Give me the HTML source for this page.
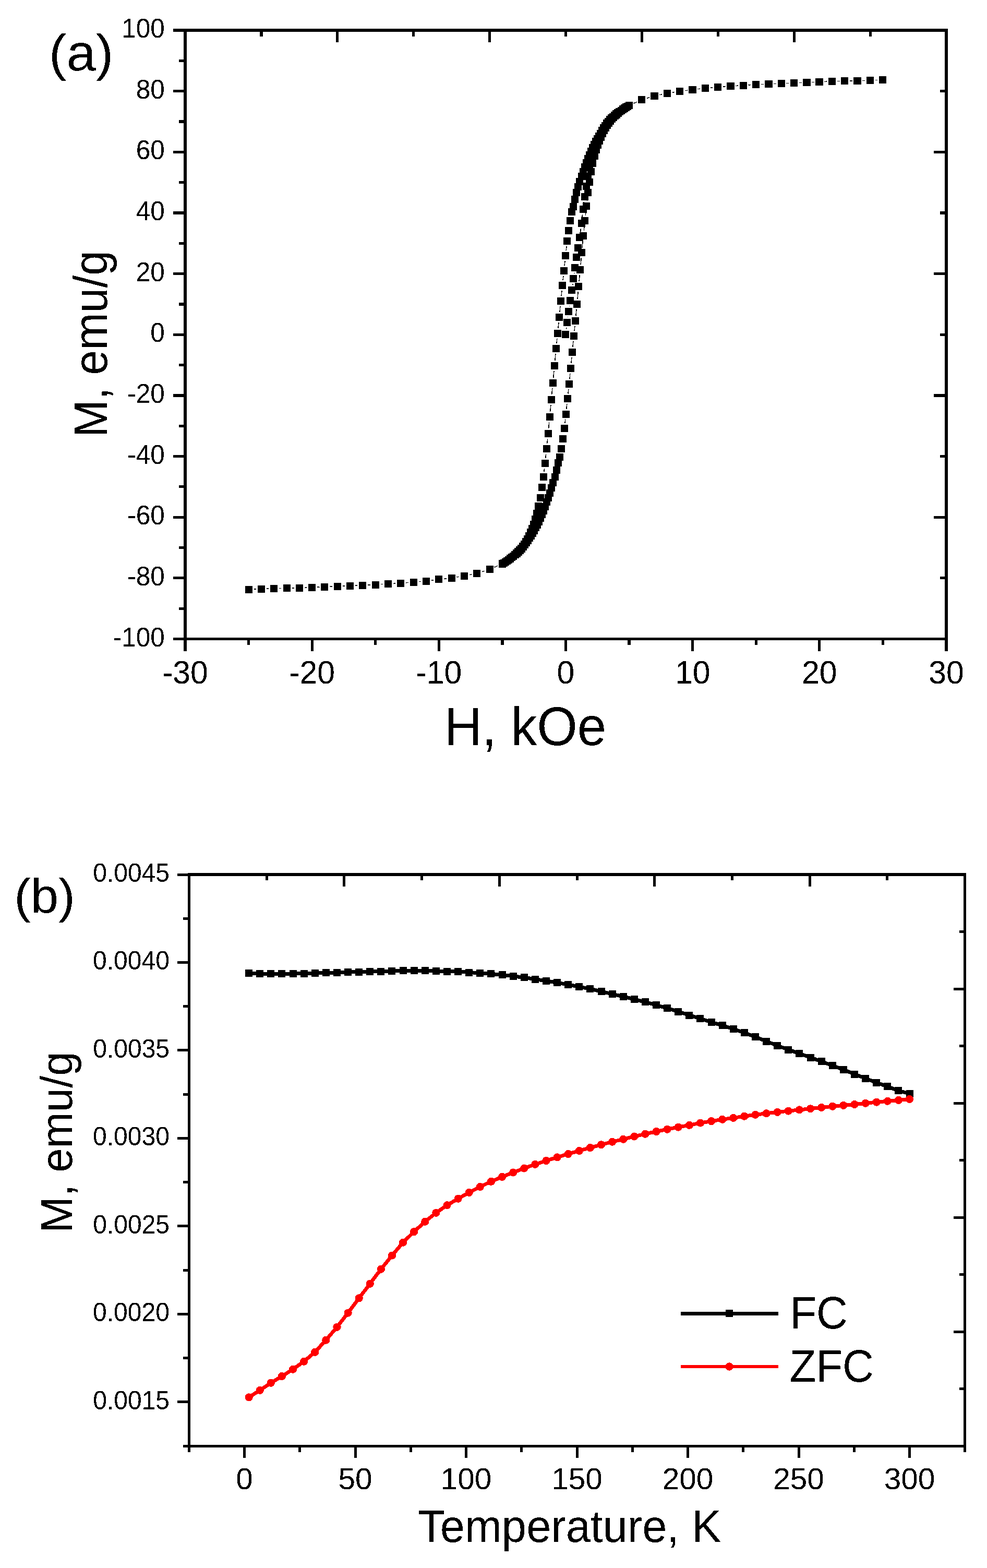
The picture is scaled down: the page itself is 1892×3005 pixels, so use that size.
<!DOCTYPE html>
<html><head><meta charset="utf-8"><title>Magnetization plots</title>
<style>
html,body{margin:0;padding:0;background:#fff;}
body{width:1892px;height:3005px;overflow:hidden;}
svg{display:block;}
text{font-family:"Liberation Sans", Arial, sans-serif;fill:#000;}
</style></head>
<body>
<svg width="1892" height="3005" viewBox="0 0 1892 3005" shape-rendering="crispEdges">
<defs><filter id="bin" x="-5%" y="-20%" width="110%" height="140%" color-interpolation-filters="sRGB"><feComponentTransfer><feFuncA type="discrete" tableValues="0 1"/></feComponentTransfer></filter></defs>
<rect x="0" y="0" width="1892" height="3005" fill="#fff"/>
<rect x="352.20" y="55.20" width="1464.60" height="5.60" fill="#000"/>
<rect x="352.20" y="1221.70" width="1464.60" height="5.60" fill="#000"/>
<rect x="352.20" y="55.20" width="5.60" height="1172.10" fill="#000"/>
<rect x="1811.20" y="55.20" width="5.60" height="1172.10" fill="#000"/>
<rect x="332.00" y="1221.90" width="23.00" height="5.20" fill="#000"/>
<rect x="332.00" y="1105.25" width="23.00" height="5.20" fill="#000"/>
<rect x="332.00" y="988.60" width="23.00" height="5.20" fill="#000"/>
<rect x="332.00" y="871.95" width="23.00" height="5.20" fill="#000"/>
<rect x="332.00" y="755.30" width="23.00" height="5.20" fill="#000"/>
<rect x="332.00" y="638.65" width="23.00" height="5.20" fill="#000"/>
<rect x="332.00" y="522.00" width="23.00" height="5.20" fill="#000"/>
<rect x="332.00" y="405.35" width="23.00" height="5.20" fill="#000"/>
<rect x="332.00" y="288.70" width="23.00" height="5.20" fill="#000"/>
<rect x="332.00" y="172.05" width="23.00" height="5.20" fill="#000"/>
<rect x="332.00" y="55.40" width="23.00" height="5.20" fill="#000"/>
<rect x="343.00" y="1163.58" width="12.00" height="5.20" fill="#000"/>
<rect x="343.00" y="1046.93" width="12.00" height="5.20" fill="#000"/>
<rect x="343.00" y="930.27" width="12.00" height="5.20" fill="#000"/>
<rect x="343.00" y="813.62" width="12.00" height="5.20" fill="#000"/>
<rect x="343.00" y="696.98" width="12.00" height="5.20" fill="#000"/>
<rect x="343.00" y="580.32" width="12.00" height="5.20" fill="#000"/>
<rect x="343.00" y="463.67" width="12.00" height="5.20" fill="#000"/>
<rect x="343.00" y="347.02" width="12.00" height="5.20" fill="#000"/>
<rect x="343.00" y="230.38" width="12.00" height="5.20" fill="#000"/>
<rect x="343.00" y="113.73" width="12.00" height="5.20" fill="#000"/>
<rect x="352.40" y="1224.50" width="5.20" height="23.50" fill="#000"/>
<rect x="595.57" y="1224.50" width="5.20" height="23.50" fill="#000"/>
<rect x="838.73" y="1224.50" width="5.20" height="23.50" fill="#000"/>
<rect x="1081.90" y="1224.50" width="5.20" height="23.50" fill="#000"/>
<rect x="1325.07" y="1224.50" width="5.20" height="23.50" fill="#000"/>
<rect x="1568.23" y="1224.50" width="5.20" height="23.50" fill="#000"/>
<rect x="1811.40" y="1224.50" width="5.20" height="23.50" fill="#000"/>
<rect x="473.98" y="1224.50" width="5.20" height="11.50" fill="#000"/>
<rect x="717.15" y="1224.50" width="5.20" height="11.50" fill="#000"/>
<rect x="960.32" y="1224.50" width="5.20" height="11.50" fill="#000"/>
<rect x="1203.48" y="1224.50" width="5.20" height="11.50" fill="#000"/>
<rect x="1446.65" y="1224.50" width="5.20" height="11.50" fill="#000"/>
<rect x="1689.82" y="1224.50" width="5.20" height="11.50" fill="#000"/>
<rect x="498.30" y="58.00" width="5.20" height="12.00" fill="#000"/>
<rect x="644.20" y="58.00" width="5.20" height="23.00" fill="#000"/>
<rect x="790.10" y="58.00" width="5.20" height="12.00" fill="#000"/>
<rect x="936.00" y="58.00" width="5.20" height="23.00" fill="#000"/>
<rect x="1081.90" y="58.00" width="5.20" height="12.00" fill="#000"/>
<rect x="1227.80" y="58.00" width="5.20" height="23.00" fill="#000"/>
<rect x="1373.70" y="58.00" width="5.20" height="12.00" fill="#000"/>
<rect x="1519.60" y="58.00" width="5.20" height="23.00" fill="#000"/>
<rect x="1665.50" y="58.00" width="5.20" height="12.00" fill="#000"/>
<rect x="1802.00" y="172.05" width="12.00" height="5.20" fill="#000"/>
<rect x="1790.00" y="288.70" width="24.00" height="5.20" fill="#000"/>
<rect x="1802.00" y="405.35" width="12.00" height="5.20" fill="#000"/>
<rect x="1790.00" y="522.00" width="24.00" height="5.20" fill="#000"/>
<rect x="1802.00" y="638.65" width="12.00" height="5.20" fill="#000"/>
<rect x="1790.00" y="755.30" width="24.00" height="5.20" fill="#000"/>
<rect x="1802.00" y="871.95" width="12.00" height="5.20" fill="#000"/>
<rect x="1790.00" y="988.60" width="24.00" height="5.20" fill="#000"/>
<rect x="1802.00" y="1105.25" width="12.00" height="5.20" fill="#000"/>
<text filter="url(#bin)" transform="translate(315.94 1238.50) scale(1 1.037)" font-size="49.6" text-anchor="end">-100</text>
<text filter="url(#bin)" transform="translate(315.94 1121.85) scale(1 1.037)" font-size="49.6" text-anchor="end">-80</text>
<text filter="url(#bin)" transform="translate(315.94 1005.20) scale(1 1.037)" font-size="49.6" text-anchor="end">-60</text>
<text filter="url(#bin)" transform="translate(315.94 888.55) scale(1 1.037)" font-size="49.6" text-anchor="end">-40</text>
<text filter="url(#bin)" transform="translate(315.94 771.90) scale(1 1.037)" font-size="49.6" text-anchor="end">-20</text>
<text filter="url(#bin)" transform="translate(315.94 655.25) scale(1 1.037)" font-size="49.6" text-anchor="end">0</text>
<text filter="url(#bin)" transform="translate(315.94 538.60) scale(1 1.037)" font-size="49.6" text-anchor="end">20</text>
<text filter="url(#bin)" transform="translate(315.94 421.95) scale(1 1.037)" font-size="49.6" text-anchor="end">40</text>
<text filter="url(#bin)" transform="translate(315.94 305.30) scale(1 1.037)" font-size="49.6" text-anchor="end">60</text>
<text filter="url(#bin)" transform="translate(315.94 188.65) scale(1 1.037)" font-size="49.6" text-anchor="end">80</text>
<text filter="url(#bin)" transform="translate(315.94 72.00) scale(1 1.037)" font-size="49.6" text-anchor="end">100</text>
<text filter="url(#bin)" transform="translate(355.00 1310.20) scale(1 1.047)" font-size="60.7" text-anchor="middle">-30</text>
<text filter="url(#bin)" transform="translate(598.17 1310.20) scale(1 1.047)" font-size="60.7" text-anchor="middle">-20</text>
<text filter="url(#bin)" transform="translate(841.33 1310.20) scale(1 1.047)" font-size="60.7" text-anchor="middle">-10</text>
<text filter="url(#bin)" transform="translate(1084.50 1310.20) scale(1 1.047)" font-size="60.7" text-anchor="middle">0</text>
<text filter="url(#bin)" transform="translate(1327.67 1310.20) scale(1 1.047)" font-size="60.7" text-anchor="middle">10</text>
<text filter="url(#bin)" transform="translate(1570.83 1310.20) scale(1 1.047)" font-size="60.7" text-anchor="middle">20</text>
<text filter="url(#bin)" transform="translate(1814.00 1310.20) scale(1 1.047)" font-size="60.7" text-anchor="middle">30</text>
<text filter="url(#bin)" transform="translate(852.00 1427.90) scale(1 1.034)" font-size="99.7" text-anchor="start">H, kOe</text>
<text filter="url(#bin)" transform="translate(205.10 837.80) rotate(-90) scale(1 1.051)" font-size="85.85" text-anchor="start">M, emu/g</text>
<text filter="url(#bin)" transform="translate(93.70 135.35) scale(1 0.967)" font-size="101.2" text-anchor="start">(a)</text>
<path d="M1085.4 631.3L1085.9 628.0M1088.6 608.2L1088.8 606.8M1091.6 587.0L1091.8 585.8M1097.7 546.2L1098.0 543.8M1100.8 524.0L1100.9 522.8M1112.6 445.3L1113.4 438.3M1115.6 418.4L1116.5 410.9M1118.8 391.0L1119.3 387.0M1214.9 198.0L1220.9 195.3M1239.6 188.3L1244.8 186.7M1264.2 181.8L1268.9 180.9M1288.5 177.3L1293.1 176.5M1312.9 173.7L1317.4 173.2M1337.2 170.7L1341.7 170.2M1361.6 168.1L1366.0 167.7M1385.9 166.0L1390.3 165.7M1410.2 164.4L1414.6 164.2M1434.5 163.0L1438.9 162.7M1458.9 161.5L1463.2 161.3M1483.2 160.5L1487.5 160.3M1507.5 159.5L1511.8 159.3M1531.8 158.5L1536.2 158.3M1556.1 157.5L1560.5 157.3M1580.5 156.4L1584.8 156.2M1604.8 155.6L1609.1 155.6M1629.1 155.2L1633.4 155.1M1653.4 154.5L1657.7 154.3M1677.7 153.5L1682.1 153.3M1682.4 153.3L1678.1 153.5M1658.1 154.3L1653.8 154.5M1633.8 155.1L1629.5 155.2M1609.5 155.6L1605.1 155.6M1585.2 156.2L1580.8 156.4M1560.8 157.3L1556.5 157.5M1536.5 158.3L1532.2 158.5M1512.2 159.3L1507.9 159.5M1487.9 160.3L1483.6 160.5M1463.6 161.3L1459.2 161.5M1439.3 162.7L1434.9 163.0M1414.9 164.2L1410.6 164.4M1390.7 165.7L1386.3 166.0M1366.3 167.7L1362.0 168.1M1342.1 170.2L1337.6 170.7M1317.7 173.2L1313.3 173.7M1293.5 176.5L1288.9 177.3M1269.2 180.9L1264.5 181.8M1245.2 186.7L1240.0 188.3M1221.3 195.3L1214.8 198.2M1086.1 472.0L1085.2 479.7M1083.1 499.6L1082.1 508.8M1080.0 528.7L1079.1 536.8M1077.1 556.7L1076.0 567.1M1074.0 587.0L1072.9 598.3M1071.0 618.2L1069.9 629.2M1067.9 649.1L1067.0 657.8M1065.0 677.7L1063.8 690.8M1062.0 710.7L1060.7 724.2M1058.9 744.1L1057.7 756.2M1055.9 776.2L1054.7 788.9M1052.8 808.8L1051.6 821.5M1049.6 841.4L1048.7 850.0M1046.6 869.9L1045.7 878.5M1043.4 898.3L1042.8 904.0M953.4 1084.7L947.7 1087.2M929.0 1094.2L923.8 1095.8M904.5 1100.7L899.8 1101.6M880.1 1105.2L875.5 1106.0M855.7 1108.8L851.3 1109.3M831.4 1111.8L826.9 1112.3M807.0 1114.4L802.7 1114.8M782.7 1116.5L778.3 1116.8M758.4 1118.1L754.1 1118.3M734.1 1119.5L729.7 1119.8M709.8 1121.0L705.4 1121.2M685.4 1122.0L681.1 1122.2M661.1 1123.0L656.8 1123.2M636.8 1124.0L632.5 1124.2M612.5 1125.0L608.2 1125.2M588.2 1126.1L583.8 1126.3M563.9 1126.9L559.5 1126.9M539.5 1127.3L535.2 1127.4M515.2 1128.0L510.9 1128.2M490.9 1129.0L486.6 1129.2M486.6 1129.2L490.9 1129.0M510.9 1128.2L515.2 1128.0M535.2 1127.4L539.5 1127.3M559.5 1126.9L563.9 1126.9M583.8 1126.3L588.2 1126.1M608.2 1125.2L612.5 1125.0M632.5 1124.2L636.8 1124.0M656.8 1123.2L661.1 1123.0M681.1 1122.2L685.4 1122.0M705.4 1121.2L709.8 1121.0M729.7 1119.8L734.1 1119.5M754.1 1118.3L758.4 1118.1M778.3 1116.8L782.7 1116.5M802.7 1114.8L807.0 1114.4M826.9 1112.3L831.4 1111.8M851.3 1109.3L855.7 1108.8M875.5 1106.0L880.1 1105.2M899.8 1101.6L904.5 1100.7M923.8 1095.8L929.0 1094.2M947.7 1087.2L954.1 1084.4M1082.9 811.0L1083.7 803.5M1085.8 783.6L1086.8 774.4M1088.9 754.5L1089.8 746.4M1091.9 726.5L1092.9 716.1M1094.9 696.2L1096.0 684.9M1097.9 665.0L1099.0 654.0M1101.0 634.1L1102.0 625.4M1103.9 605.5L1105.1 592.5M1107.0 572.6L1108.2 559.1M1110.1 539.2L1111.2 527.0M1113.1 507.1L1114.3 494.4M1116.1 474.5L1117.3 461.7M1119.3 441.8L1120.2 433.2M1122.3 413.3L1123.2 404.7M1125.5 384.8L1126.2 379.0M1215.5 197.8L1221.3 195.3M1240.0 188.3L1245.2 186.7M1264.5 181.8L1269.2 180.9M1288.9 177.3L1293.5 176.5M1313.3 173.7L1317.7 173.2M1337.6 170.7L1342.1 170.2M1362.0 168.1L1366.3 167.7M1386.3 166.0L1390.7 165.7M1410.6 164.4L1414.9 164.2M1434.9 163.0L1439.3 162.7M1459.2 161.5L1463.6 161.3M1483.6 160.5L1487.9 160.3M1507.9 159.5L1512.2 159.3M1532.2 158.5L1536.5 158.3M1556.5 157.5L1560.8 157.3M1580.8 156.4L1585.2 156.2M1605.1 155.6L1609.5 155.6M1629.5 155.2L1633.8 155.1M1653.8 154.5L1658.1 154.3M1678.1 153.5L1682.4 153.3" fill="none" stroke="#000" stroke-width="1.5"/>
<rect x="1077.14" y="634.25" width="14.00" height="14.00" fill="#000"/>
<rect x="1080.17" y="611.09" width="14.00" height="14.00" fill="#000"/>
<rect x="1083.21" y="589.92" width="14.00" height="14.00" fill="#000"/>
<rect x="1086.25" y="568.93" width="14.00" height="14.00" fill="#000"/>
<rect x="1089.29" y="549.10" width="14.00" height="14.00" fill="#000"/>
<rect x="1092.33" y="526.93" width="14.00" height="14.00" fill="#000"/>
<rect x="1095.37" y="505.93" width="14.00" height="14.00" fill="#000"/>
<rect x="1098.41" y="486.10" width="14.00" height="14.00" fill="#000"/>
<rect x="1101.45" y="468.02" width="14.00" height="14.00" fill="#000"/>
<rect x="1104.49" y="448.19" width="14.00" height="14.00" fill="#000"/>
<rect x="1107.53" y="421.36" width="14.00" height="14.00" fill="#000"/>
<rect x="1110.57" y="393.95" width="14.00" height="14.00" fill="#000"/>
<rect x="1113.61" y="370.04" width="14.00" height="14.00" fill="#000"/>
<rect x="1116.65" y="349.92" width="14.00" height="14.00" fill="#000"/>
<rect x="1119.69" y="330.89" width="14.00" height="14.00" fill="#000"/>
<rect x="1122.73" y="314.36" width="14.00" height="14.00" fill="#000"/>
<rect x="1125.77" y="299.90" width="14.00" height="14.00" fill="#000"/>
<rect x="1128.81" y="287.47" width="14.00" height="14.00" fill="#000"/>
<rect x="1131.85" y="277.43" width="14.00" height="14.00" fill="#000"/>
<rect x="1134.89" y="269.02" width="14.00" height="14.00" fill="#000"/>
<rect x="1137.93" y="261.68" width="14.00" height="14.00" fill="#000"/>
<rect x="1140.97" y="254.97" width="14.00" height="14.00" fill="#000"/>
<rect x="1144.01" y="248.79" width="14.00" height="14.00" fill="#000"/>
<rect x="1147.05" y="243.20" width="14.00" height="14.00" fill="#000"/>
<rect x="1150.09" y="238.16" width="14.00" height="14.00" fill="#000"/>
<rect x="1153.12" y="233.61" width="14.00" height="14.00" fill="#000"/>
<rect x="1156.16" y="229.48" width="14.00" height="14.00" fill="#000"/>
<rect x="1159.20" y="225.76" width="14.00" height="14.00" fill="#000"/>
<rect x="1162.24" y="222.39" width="14.00" height="14.00" fill="#000"/>
<rect x="1165.28" y="219.32" width="14.00" height="14.00" fill="#000"/>
<rect x="1168.32" y="216.54" width="14.00" height="14.00" fill="#000"/>
<rect x="1171.36" y="213.97" width="14.00" height="14.00" fill="#000"/>
<rect x="1174.40" y="211.47" width="14.00" height="14.00" fill="#000"/>
<rect x="1177.44" y="209.06" width="14.00" height="14.00" fill="#000"/>
<rect x="1180.48" y="206.75" width="14.00" height="14.00" fill="#000"/>
<rect x="1183.52" y="204.52" width="14.00" height="14.00" fill="#000"/>
<rect x="1186.56" y="202.40" width="14.00" height="14.00" fill="#000"/>
<rect x="1189.60" y="200.39" width="14.00" height="14.00" fill="#000"/>
<rect x="1192.64" y="198.49" width="14.00" height="14.00" fill="#000"/>
<rect x="1195.68" y="196.71" width="14.00" height="14.00" fill="#000"/>
<rect x="1198.72" y="195.06" width="14.00" height="14.00" fill="#000"/>
<rect x="1223.04" y="184.21" width="14.00" height="14.00" fill="#000"/>
<rect x="1247.35" y="176.81" width="14.00" height="14.00" fill="#000"/>
<rect x="1271.67" y="171.91" width="14.00" height="14.00" fill="#000"/>
<rect x="1295.99" y="167.88" width="14.00" height="14.00" fill="#000"/>
<rect x="1320.30" y="165.03" width="14.00" height="14.00" fill="#000"/>
<rect x="1344.62" y="161.88" width="14.00" height="14.00" fill="#000"/>
<rect x="1368.94" y="159.89" width="14.00" height="14.00" fill="#000"/>
<rect x="1393.25" y="157.79" width="14.00" height="14.00" fill="#000"/>
<rect x="1417.57" y="156.80" width="14.00" height="14.00" fill="#000"/>
<rect x="1441.89" y="154.88" width="14.00" height="14.00" fill="#000"/>
<rect x="1466.20" y="153.89" width="14.00" height="14.00" fill="#000"/>
<rect x="1490.52" y="152.89" width="14.00" height="14.00" fill="#000"/>
<rect x="1514.84" y="151.90" width="14.00" height="14.00" fill="#000"/>
<rect x="1539.15" y="150.91" width="14.00" height="14.00" fill="#000"/>
<rect x="1563.47" y="149.86" width="14.00" height="14.00" fill="#000"/>
<rect x="1587.79" y="148.81" width="14.00" height="14.00" fill="#000"/>
<rect x="1612.10" y="148.40" width="14.00" height="14.00" fill="#000"/>
<rect x="1636.42" y="147.94" width="14.00" height="14.00" fill="#000"/>
<rect x="1660.74" y="146.89" width="14.00" height="14.00" fill="#000"/>
<rect x="1685.05" y="145.89" width="14.00" height="14.00" fill="#000"/>
<rect x="1685.42" y="145.89" width="14.00" height="14.00" fill="#000"/>
<rect x="1661.10" y="146.89" width="14.00" height="14.00" fill="#000"/>
<rect x="1636.78" y="147.94" width="14.00" height="14.00" fill="#000"/>
<rect x="1612.47" y="148.40" width="14.00" height="14.00" fill="#000"/>
<rect x="1588.15" y="148.81" width="14.00" height="14.00" fill="#000"/>
<rect x="1563.83" y="149.86" width="14.00" height="14.00" fill="#000"/>
<rect x="1539.52" y="150.91" width="14.00" height="14.00" fill="#000"/>
<rect x="1515.20" y="151.90" width="14.00" height="14.00" fill="#000"/>
<rect x="1490.88" y="152.89" width="14.00" height="14.00" fill="#000"/>
<rect x="1466.57" y="153.89" width="14.00" height="14.00" fill="#000"/>
<rect x="1442.25" y="154.88" width="14.00" height="14.00" fill="#000"/>
<rect x="1417.93" y="156.80" width="14.00" height="14.00" fill="#000"/>
<rect x="1393.62" y="157.79" width="14.00" height="14.00" fill="#000"/>
<rect x="1369.30" y="159.89" width="14.00" height="14.00" fill="#000"/>
<rect x="1344.98" y="161.88" width="14.00" height="14.00" fill="#000"/>
<rect x="1320.67" y="165.03" width="14.00" height="14.00" fill="#000"/>
<rect x="1296.35" y="167.88" width="14.00" height="14.00" fill="#000"/>
<rect x="1272.03" y="171.91" width="14.00" height="14.00" fill="#000"/>
<rect x="1247.72" y="176.81" width="14.00" height="14.00" fill="#000"/>
<rect x="1223.40" y="184.21" width="14.00" height="14.00" fill="#000"/>
<rect x="1198.72" y="195.26" width="14.00" height="14.00" fill="#000"/>
<rect x="1195.68" y="197.00" width="14.00" height="14.00" fill="#000"/>
<rect x="1192.64" y="198.89" width="14.00" height="14.00" fill="#000"/>
<rect x="1189.60" y="200.90" width="14.00" height="14.00" fill="#000"/>
<rect x="1186.56" y="203.02" width="14.00" height="14.00" fill="#000"/>
<rect x="1183.52" y="205.21" width="14.00" height="14.00" fill="#000"/>
<rect x="1180.48" y="207.46" width="14.00" height="14.00" fill="#000"/>
<rect x="1177.44" y="209.82" width="14.00" height="14.00" fill="#000"/>
<rect x="1174.40" y="212.30" width="14.00" height="14.00" fill="#000"/>
<rect x="1171.36" y="214.92" width="14.00" height="14.00" fill="#000"/>
<rect x="1168.32" y="217.70" width="14.00" height="14.00" fill="#000"/>
<rect x="1165.28" y="220.68" width="14.00" height="14.00" fill="#000"/>
<rect x="1162.24" y="223.93" width="14.00" height="14.00" fill="#000"/>
<rect x="1159.20" y="227.43" width="14.00" height="14.00" fill="#000"/>
<rect x="1156.16" y="231.26" width="14.00" height="14.00" fill="#000"/>
<rect x="1153.12" y="235.43" width="14.00" height="14.00" fill="#000"/>
<rect x="1150.09" y="239.80" width="14.00" height="14.00" fill="#000"/>
<rect x="1147.05" y="244.32" width="14.00" height="14.00" fill="#000"/>
<rect x="1144.01" y="249.05" width="14.00" height="14.00" fill="#000"/>
<rect x="1140.97" y="253.97" width="14.00" height="14.00" fill="#000"/>
<rect x="1137.93" y="259.03" width="14.00" height="14.00" fill="#000"/>
<rect x="1134.89" y="264.31" width="14.00" height="14.00" fill="#000"/>
<rect x="1131.85" y="269.95" width="14.00" height="14.00" fill="#000"/>
<rect x="1128.81" y="276.05" width="14.00" height="14.00" fill="#000"/>
<rect x="1125.77" y="282.58" width="14.00" height="14.00" fill="#000"/>
<rect x="1122.73" y="289.54" width="14.00" height="14.00" fill="#000"/>
<rect x="1119.69" y="297.01" width="14.00" height="14.00" fill="#000"/>
<rect x="1116.65" y="304.98" width="14.00" height="14.00" fill="#000"/>
<rect x="1113.61" y="313.31" width="14.00" height="14.00" fill="#000"/>
<rect x="1110.57" y="321.93" width="14.00" height="14.00" fill="#000"/>
<rect x="1107.53" y="331.01" width="14.00" height="14.00" fill="#000"/>
<rect x="1104.49" y="340.73" width="14.00" height="14.00" fill="#000"/>
<rect x="1101.45" y="351.03" width="14.00" height="14.00" fill="#000"/>
<rect x="1098.41" y="362.15" width="14.00" height="14.00" fill="#000"/>
<rect x="1095.37" y="374.58" width="14.00" height="14.00" fill="#000"/>
<rect x="1092.33" y="388.64" width="14.00" height="14.00" fill="#000"/>
<rect x="1089.29" y="399.38" width="14.00" height="14.00" fill="#000"/>
<rect x="1086.25" y="415.82" width="14.00" height="14.00" fill="#000"/>
<rect x="1083.21" y="435.15" width="14.00" height="14.00" fill="#000"/>
<rect x="1080.17" y="455.10" width="14.00" height="14.00" fill="#000"/>
<rect x="1077.14" y="482.62" width="14.00" height="14.00" fill="#000"/>
<rect x="1074.10" y="511.77" width="14.00" height="14.00" fill="#000"/>
<rect x="1071.06" y="539.77" width="14.00" height="14.00" fill="#000"/>
<rect x="1068.02" y="570.09" width="14.00" height="14.00" fill="#000"/>
<rect x="1064.98" y="601.26" width="14.00" height="14.00" fill="#000"/>
<rect x="1061.94" y="632.17" width="14.00" height="14.00" fill="#000"/>
<rect x="1058.90" y="660.79" width="14.00" height="14.00" fill="#000"/>
<rect x="1055.86" y="693.74" width="14.00" height="14.00" fill="#000"/>
<rect x="1052.82" y="727.13" width="14.00" height="14.00" fill="#000"/>
<rect x="1049.78" y="759.19" width="14.00" height="14.00" fill="#000"/>
<rect x="1046.74" y="791.87" width="14.00" height="14.00" fill="#000"/>
<rect x="1043.70" y="824.48" width="14.00" height="14.00" fill="#000"/>
<rect x="1040.66" y="852.95" width="14.00" height="14.00" fill="#000"/>
<rect x="1037.62" y="881.40" width="14.00" height="14.00" fill="#000"/>
<rect x="1034.58" y="906.96" width="14.00" height="14.00" fill="#000"/>
<rect x="1031.54" y="926.92" width="14.00" height="14.00" fill="#000"/>
<rect x="1028.50" y="946.60" width="14.00" height="14.00" fill="#000"/>
<rect x="1025.46" y="962.82" width="14.00" height="14.00" fill="#000"/>
<rect x="1022.42" y="976.97" width="14.00" height="14.00" fill="#000"/>
<rect x="1019.38" y="988.45" width="14.00" height="14.00" fill="#000"/>
<rect x="1016.34" y="997.79" width="14.00" height="14.00" fill="#000"/>
<rect x="1013.30" y="1005.79" width="14.00" height="14.00" fill="#000"/>
<rect x="1010.26" y="1013.02" width="14.00" height="14.00" fill="#000"/>
<rect x="1007.22" y="1019.63" width="14.00" height="14.00" fill="#000"/>
<rect x="1004.19" y="1025.60" width="14.00" height="14.00" fill="#000"/>
<rect x="1001.15" y="1030.92" width="14.00" height="14.00" fill="#000"/>
<rect x="998.11" y="1035.70" width="14.00" height="14.00" fill="#000"/>
<rect x="995.07" y="1040.02" width="14.00" height="14.00" fill="#000"/>
<rect x="992.03" y="1043.86" width="14.00" height="14.00" fill="#000"/>
<rect x="988.99" y="1047.34" width="14.00" height="14.00" fill="#000"/>
<rect x="985.95" y="1050.49" width="14.00" height="14.00" fill="#000"/>
<rect x="982.91" y="1053.32" width="14.00" height="14.00" fill="#000"/>
<rect x="979.87" y="1056.02" width="14.00" height="14.00" fill="#000"/>
<rect x="976.83" y="1058.62" width="14.00" height="14.00" fill="#000"/>
<rect x="973.79" y="1061.13" width="14.00" height="14.00" fill="#000"/>
<rect x="970.75" y="1063.53" width="14.00" height="14.00" fill="#000"/>
<rect x="967.71" y="1065.81" width="14.00" height="14.00" fill="#000"/>
<rect x="964.67" y="1067.97" width="14.00" height="14.00" fill="#000"/>
<rect x="961.63" y="1070.00" width="14.00" height="14.00" fill="#000"/>
<rect x="958.59" y="1071.89" width="14.00" height="14.00" fill="#000"/>
<rect x="955.55" y="1073.64" width="14.00" height="14.00" fill="#000"/>
<rect x="931.60" y="1084.29" width="14.00" height="14.00" fill="#000"/>
<rect x="907.28" y="1091.69" width="14.00" height="14.00" fill="#000"/>
<rect x="882.97" y="1096.59" width="14.00" height="14.00" fill="#000"/>
<rect x="858.65" y="1100.62" width="14.00" height="14.00" fill="#000"/>
<rect x="834.33" y="1103.47" width="14.00" height="14.00" fill="#000"/>
<rect x="810.02" y="1106.62" width="14.00" height="14.00" fill="#000"/>
<rect x="785.70" y="1108.61" width="14.00" height="14.00" fill="#000"/>
<rect x="761.38" y="1110.71" width="14.00" height="14.00" fill="#000"/>
<rect x="737.07" y="1111.70" width="14.00" height="14.00" fill="#000"/>
<rect x="712.75" y="1113.62" width="14.00" height="14.00" fill="#000"/>
<rect x="688.43" y="1114.61" width="14.00" height="14.00" fill="#000"/>
<rect x="664.12" y="1115.61" width="14.00" height="14.00" fill="#000"/>
<rect x="639.80" y="1116.60" width="14.00" height="14.00" fill="#000"/>
<rect x="615.48" y="1117.59" width="14.00" height="14.00" fill="#000"/>
<rect x="591.17" y="1118.64" width="14.00" height="14.00" fill="#000"/>
<rect x="566.85" y="1119.69" width="14.00" height="14.00" fill="#000"/>
<rect x="542.53" y="1120.10" width="14.00" height="14.00" fill="#000"/>
<rect x="518.22" y="1120.56" width="14.00" height="14.00" fill="#000"/>
<rect x="493.90" y="1121.61" width="14.00" height="14.00" fill="#000"/>
<rect x="469.58" y="1122.61" width="14.00" height="14.00" fill="#000"/>
<rect x="469.58" y="1122.61" width="14.00" height="14.00" fill="#000"/>
<rect x="493.90" y="1121.61" width="14.00" height="14.00" fill="#000"/>
<rect x="518.22" y="1120.56" width="14.00" height="14.00" fill="#000"/>
<rect x="542.53" y="1120.10" width="14.00" height="14.00" fill="#000"/>
<rect x="566.85" y="1119.69" width="14.00" height="14.00" fill="#000"/>
<rect x="591.17" y="1118.64" width="14.00" height="14.00" fill="#000"/>
<rect x="615.48" y="1117.59" width="14.00" height="14.00" fill="#000"/>
<rect x="639.80" y="1116.60" width="14.00" height="14.00" fill="#000"/>
<rect x="664.12" y="1115.61" width="14.00" height="14.00" fill="#000"/>
<rect x="688.43" y="1114.61" width="14.00" height="14.00" fill="#000"/>
<rect x="712.75" y="1113.62" width="14.00" height="14.00" fill="#000"/>
<rect x="737.07" y="1111.70" width="14.00" height="14.00" fill="#000"/>
<rect x="761.38" y="1110.71" width="14.00" height="14.00" fill="#000"/>
<rect x="785.70" y="1108.61" width="14.00" height="14.00" fill="#000"/>
<rect x="810.02" y="1106.62" width="14.00" height="14.00" fill="#000"/>
<rect x="834.33" y="1103.47" width="14.00" height="14.00" fill="#000"/>
<rect x="858.65" y="1100.62" width="14.00" height="14.00" fill="#000"/>
<rect x="882.97" y="1096.59" width="14.00" height="14.00" fill="#000"/>
<rect x="907.28" y="1091.69" width="14.00" height="14.00" fill="#000"/>
<rect x="931.60" y="1084.29" width="14.00" height="14.00" fill="#000"/>
<rect x="956.21" y="1073.28" width="14.00" height="14.00" fill="#000"/>
<rect x="959.25" y="1071.54" width="14.00" height="14.00" fill="#000"/>
<rect x="962.29" y="1069.66" width="14.00" height="14.00" fill="#000"/>
<rect x="965.33" y="1067.64" width="14.00" height="14.00" fill="#000"/>
<rect x="968.37" y="1065.53" width="14.00" height="14.00" fill="#000"/>
<rect x="971.41" y="1063.35" width="14.00" height="14.00" fill="#000"/>
<rect x="974.45" y="1061.09" width="14.00" height="14.00" fill="#000"/>
<rect x="977.49" y="1058.74" width="14.00" height="14.00" fill="#000"/>
<rect x="980.53" y="1056.26" width="14.00" height="14.00" fill="#000"/>
<rect x="983.56" y="1053.64" width="14.00" height="14.00" fill="#000"/>
<rect x="986.60" y="1050.87" width="14.00" height="14.00" fill="#000"/>
<rect x="989.64" y="1047.89" width="14.00" height="14.00" fill="#000"/>
<rect x="992.68" y="1044.65" width="14.00" height="14.00" fill="#000"/>
<rect x="995.72" y="1041.15" width="14.00" height="14.00" fill="#000"/>
<rect x="998.76" y="1037.33" width="14.00" height="14.00" fill="#000"/>
<rect x="1001.80" y="1033.17" width="14.00" height="14.00" fill="#000"/>
<rect x="1004.84" y="1028.81" width="14.00" height="14.00" fill="#000"/>
<rect x="1007.88" y="1024.29" width="14.00" height="14.00" fill="#000"/>
<rect x="1010.92" y="1019.57" width="14.00" height="14.00" fill="#000"/>
<rect x="1013.96" y="1014.65" width="14.00" height="14.00" fill="#000"/>
<rect x="1017.00" y="1009.59" width="14.00" height="14.00" fill="#000"/>
<rect x="1020.04" y="1004.32" width="14.00" height="14.00" fill="#000"/>
<rect x="1023.08" y="998.69" width="14.00" height="14.00" fill="#000"/>
<rect x="1026.12" y="992.60" width="14.00" height="14.00" fill="#000"/>
<rect x="1029.16" y="986.08" width="14.00" height="14.00" fill="#000"/>
<rect x="1032.20" y="979.13" width="14.00" height="14.00" fill="#000"/>
<rect x="1035.24" y="971.67" width="14.00" height="14.00" fill="#000"/>
<rect x="1038.28" y="963.71" width="14.00" height="14.00" fill="#000"/>
<rect x="1041.32" y="955.39" width="14.00" height="14.00" fill="#000"/>
<rect x="1044.36" y="946.78" width="14.00" height="14.00" fill="#000"/>
<rect x="1047.40" y="937.72" width="14.00" height="14.00" fill="#000"/>
<rect x="1050.44" y="928.01" width="14.00" height="14.00" fill="#000"/>
<rect x="1053.48" y="917.72" width="14.00" height="14.00" fill="#000"/>
<rect x="1056.51" y="906.63" width="14.00" height="14.00" fill="#000"/>
<rect x="1059.55" y="894.25" width="14.00" height="14.00" fill="#000"/>
<rect x="1062.59" y="880.13" width="14.00" height="14.00" fill="#000"/>
<rect x="1065.63" y="869.42" width="14.00" height="14.00" fill="#000"/>
<rect x="1068.67" y="853.12" width="14.00" height="14.00" fill="#000"/>
<rect x="1071.71" y="833.82" width="14.00" height="14.00" fill="#000"/>
<rect x="1074.75" y="813.94" width="14.00" height="14.00" fill="#000"/>
<rect x="1077.79" y="786.57" width="14.00" height="14.00" fill="#000"/>
<rect x="1080.83" y="757.42" width="14.00" height="14.00" fill="#000"/>
<rect x="1083.87" y="729.43" width="14.00" height="14.00" fill="#000"/>
<rect x="1086.91" y="699.15" width="14.00" height="14.00" fill="#000"/>
<rect x="1089.95" y="667.99" width="14.00" height="14.00" fill="#000"/>
<rect x="1092.99" y="637.04" width="14.00" height="14.00" fill="#000"/>
<rect x="1096.03" y="608.45" width="14.00" height="14.00" fill="#000"/>
<rect x="1099.07" y="575.56" width="14.00" height="14.00" fill="#000"/>
<rect x="1102.11" y="542.16" width="14.00" height="14.00" fill="#000"/>
<rect x="1105.15" y="510.08" width="14.00" height="14.00" fill="#000"/>
<rect x="1108.19" y="477.41" width="14.00" height="14.00" fill="#000"/>
<rect x="1111.23" y="444.74" width="14.00" height="14.00" fill="#000"/>
<rect x="1114.27" y="416.24" width="14.00" height="14.00" fill="#000"/>
<rect x="1117.31" y="387.75" width="14.00" height="14.00" fill="#000"/>
<rect x="1120.35" y="362.06" width="14.00" height="14.00" fill="#000"/>
<rect x="1123.39" y="342.07" width="14.00" height="14.00" fill="#000"/>
<rect x="1126.43" y="322.31" width="14.00" height="14.00" fill="#000"/>
<rect x="1129.46" y="306.05" width="14.00" height="14.00" fill="#000"/>
<rect x="1132.50" y="291.84" width="14.00" height="14.00" fill="#000"/>
<rect x="1135.54" y="280.29" width="14.00" height="14.00" fill="#000"/>
<rect x="1138.58" y="270.92" width="14.00" height="14.00" fill="#000"/>
<rect x="1141.62" y="262.89" width="14.00" height="14.00" fill="#000"/>
<rect x="1144.66" y="255.65" width="14.00" height="14.00" fill="#000"/>
<rect x="1147.70" y="249.02" width="14.00" height="14.00" fill="#000"/>
<rect x="1150.74" y="243.04" width="14.00" height="14.00" fill="#000"/>
<rect x="1153.78" y="237.71" width="14.00" height="14.00" fill="#000"/>
<rect x="1156.82" y="232.90" width="14.00" height="14.00" fill="#000"/>
<rect x="1159.86" y="228.58" width="14.00" height="14.00" fill="#000"/>
<rect x="1162.90" y="224.73" width="14.00" height="14.00" fill="#000"/>
<rect x="1165.94" y="221.24" width="14.00" height="14.00" fill="#000"/>
<rect x="1168.98" y="218.09" width="14.00" height="14.00" fill="#000"/>
<rect x="1172.02" y="215.24" width="14.00" height="14.00" fill="#000"/>
<rect x="1175.06" y="212.55" width="14.00" height="14.00" fill="#000"/>
<rect x="1178.10" y="209.94" width="14.00" height="14.00" fill="#000"/>
<rect x="1181.14" y="207.43" width="14.00" height="14.00" fill="#000"/>
<rect x="1184.18" y="205.03" width="14.00" height="14.00" fill="#000"/>
<rect x="1187.22" y="202.75" width="14.00" height="14.00" fill="#000"/>
<rect x="1190.26" y="200.58" width="14.00" height="14.00" fill="#000"/>
<rect x="1193.30" y="198.55" width="14.00" height="14.00" fill="#000"/>
<rect x="1196.34" y="196.65" width="14.00" height="14.00" fill="#000"/>
<rect x="1199.38" y="194.90" width="14.00" height="14.00" fill="#000"/>
<rect x="1223.40" y="184.21" width="14.00" height="14.00" fill="#000"/>
<rect x="1247.72" y="176.81" width="14.00" height="14.00" fill="#000"/>
<rect x="1272.03" y="171.91" width="14.00" height="14.00" fill="#000"/>
<rect x="1296.35" y="167.88" width="14.00" height="14.00" fill="#000"/>
<rect x="1320.67" y="165.03" width="14.00" height="14.00" fill="#000"/>
<rect x="1344.98" y="161.88" width="14.00" height="14.00" fill="#000"/>
<rect x="1369.30" y="159.89" width="14.00" height="14.00" fill="#000"/>
<rect x="1393.62" y="157.79" width="14.00" height="14.00" fill="#000"/>
<rect x="1417.93" y="156.80" width="14.00" height="14.00" fill="#000"/>
<rect x="1442.25" y="154.88" width="14.00" height="14.00" fill="#000"/>
<rect x="1466.57" y="153.89" width="14.00" height="14.00" fill="#000"/>
<rect x="1490.88" y="152.89" width="14.00" height="14.00" fill="#000"/>
<rect x="1515.20" y="151.90" width="14.00" height="14.00" fill="#000"/>
<rect x="1539.52" y="150.91" width="14.00" height="14.00" fill="#000"/>
<rect x="1563.83" y="149.86" width="14.00" height="14.00" fill="#000"/>
<rect x="1588.15" y="148.81" width="14.00" height="14.00" fill="#000"/>
<rect x="1612.47" y="148.40" width="14.00" height="14.00" fill="#000"/>
<rect x="1636.78" y="147.94" width="14.00" height="14.00" fill="#000"/>
<rect x="1661.10" y="146.89" width="14.00" height="14.00" fill="#000"/>
<rect x="1685.42" y="145.89" width="14.00" height="14.00" fill="#000"/>
<rect x="359.90" y="1673.40" width="1492.20" height="5.60" fill="#000"/>
<rect x="359.90" y="2768.90" width="1492.20" height="5.20" fill="#000"/>
<rect x="359.90" y="1673.40" width="5.20" height="1100.70" fill="#000"/>
<rect x="1846.90" y="1673.40" width="5.20" height="1100.70" fill="#000"/>
<rect x="340.00" y="2684.40" width="22.50" height="5.00" fill="#000"/>
<rect x="340.00" y="2515.92" width="22.50" height="5.00" fill="#000"/>
<rect x="340.00" y="2347.43" width="22.50" height="5.00" fill="#000"/>
<rect x="340.00" y="2178.95" width="22.50" height="5.00" fill="#000"/>
<rect x="340.00" y="2010.47" width="22.50" height="5.00" fill="#000"/>
<rect x="340.00" y="1841.98" width="22.50" height="5.00" fill="#000"/>
<rect x="340.00" y="1673.50" width="22.50" height="5.00" fill="#000"/>
<rect x="351.00" y="2768.64" width="11.50" height="5.00" fill="#000"/>
<rect x="351.00" y="2600.16" width="11.50" height="5.00" fill="#000"/>
<rect x="351.00" y="2431.67" width="11.50" height="5.00" fill="#000"/>
<rect x="351.00" y="2263.19" width="11.50" height="5.00" fill="#000"/>
<rect x="351.00" y="2094.71" width="11.50" height="5.00" fill="#000"/>
<rect x="351.00" y="1926.22" width="11.50" height="5.00" fill="#000"/>
<rect x="351.00" y="1757.74" width="11.50" height="5.00" fill="#000"/>
<rect x="466.10" y="2771.50" width="5.00" height="22.50" fill="#000"/>
<rect x="678.59" y="2771.50" width="5.00" height="22.50" fill="#000"/>
<rect x="891.07" y="2771.50" width="5.00" height="22.50" fill="#000"/>
<rect x="1103.55" y="2771.50" width="5.00" height="22.50" fill="#000"/>
<rect x="1316.04" y="2771.50" width="5.00" height="22.50" fill="#000"/>
<rect x="1528.53" y="2771.50" width="5.00" height="22.50" fill="#000"/>
<rect x="1741.01" y="2771.50" width="5.00" height="22.50" fill="#000"/>
<rect x="359.86" y="2771.50" width="5.00" height="11.50" fill="#000"/>
<rect x="572.34" y="2771.50" width="5.00" height="11.50" fill="#000"/>
<rect x="784.83" y="2771.50" width="5.00" height="11.50" fill="#000"/>
<rect x="997.31" y="2771.50" width="5.00" height="11.50" fill="#000"/>
<rect x="1209.80" y="2771.50" width="5.00" height="11.50" fill="#000"/>
<rect x="1422.28" y="2771.50" width="5.00" height="11.50" fill="#000"/>
<rect x="1634.77" y="2771.50" width="5.00" height="11.50" fill="#000"/>
<rect x="1847.25" y="2771.50" width="5.00" height="11.50" fill="#000"/>
<rect x="508.70" y="1676.00" width="5.00" height="11.00" fill="#000"/>
<rect x="657.40" y="1676.00" width="5.00" height="23.00" fill="#000"/>
<rect x="806.10" y="1676.00" width="5.00" height="11.00" fill="#000"/>
<rect x="954.80" y="1676.00" width="5.00" height="23.00" fill="#000"/>
<rect x="1103.50" y="1676.00" width="5.00" height="11.00" fill="#000"/>
<rect x="1252.20" y="1676.00" width="5.00" height="23.00" fill="#000"/>
<rect x="1400.90" y="1676.00" width="5.00" height="11.00" fill="#000"/>
<rect x="1549.60" y="1676.00" width="5.00" height="23.00" fill="#000"/>
<rect x="1698.30" y="1676.00" width="5.00" height="11.00" fill="#000"/>
<rect x="1838.50" y="1783.05" width="11.00" height="5.00" fill="#000"/>
<rect x="1827.50" y="1892.60" width="22.00" height="5.00" fill="#000"/>
<rect x="1838.50" y="2002.15" width="11.00" height="5.00" fill="#000"/>
<rect x="1827.50" y="2111.70" width="22.00" height="5.00" fill="#000"/>
<rect x="1838.50" y="2221.25" width="11.00" height="5.00" fill="#000"/>
<rect x="1827.50" y="2330.80" width="22.00" height="5.00" fill="#000"/>
<rect x="1838.50" y="2440.35" width="11.00" height="5.00" fill="#000"/>
<rect x="1827.50" y="2549.90" width="22.00" height="5.00" fill="#000"/>
<rect x="1838.50" y="2659.45" width="11.00" height="5.00" fill="#000"/>
<text filter="url(#bin)" transform="translate(325.02 2700.90) scale(1 1.045)" font-size="48.0" text-anchor="end">0.0015</text>
<text filter="url(#bin)" transform="translate(324.88 2532.42) scale(1 1.045)" font-size="48.0" text-anchor="end">0.0020</text>
<text filter="url(#bin)" transform="translate(325.02 2363.93) scale(1 1.045)" font-size="48.0" text-anchor="end">0.0025</text>
<text filter="url(#bin)" transform="translate(324.88 2195.45) scale(1 1.045)" font-size="48.0" text-anchor="end">0.0030</text>
<text filter="url(#bin)" transform="translate(325.02 2026.97) scale(1 1.045)" font-size="48.0" text-anchor="end">0.0035</text>
<text filter="url(#bin)" transform="translate(324.88 1858.48) scale(1 1.045)" font-size="48.0" text-anchor="end">0.0040</text>
<text filter="url(#bin)" transform="translate(325.02 1690.00) scale(1 1.045)" font-size="48.0" text-anchor="end">0.0045</text>
<text filter="url(#bin)" transform="translate(468.60 2854.30) scale(1 0.989)" font-size="58.55" text-anchor="middle">0</text>
<text filter="url(#bin)" transform="translate(681.09 2854.30) scale(1 0.989)" font-size="58.55" text-anchor="middle">50</text>
<text filter="url(#bin)" transform="translate(893.57 2854.30) scale(1 0.989)" font-size="58.55" text-anchor="middle">100</text>
<text filter="url(#bin)" transform="translate(1106.05 2854.30) scale(1 0.989)" font-size="58.55" text-anchor="middle">150</text>
<text filter="url(#bin)" transform="translate(1318.54 2854.30) scale(1 0.989)" font-size="58.55" text-anchor="middle">200</text>
<text filter="url(#bin)" transform="translate(1531.03 2854.30) scale(1 0.989)" font-size="58.55" text-anchor="middle">250</text>
<text filter="url(#bin)" transform="translate(1743.51 2854.30) scale(1 0.989)" font-size="58.55" text-anchor="middle">300</text>
<text filter="url(#bin)" transform="translate(801.30 2954.90) scale(1 1.024)" font-size="85.0" text-anchor="start">Temperature, K</text>
<text filter="url(#bin)" transform="translate(138.00 2362.50) rotate(-90) scale(1 1.029)" font-size="83.3" text-anchor="start">M, emu/g</text>
<text filter="url(#bin)" transform="translate(27.30 1749.10) scale(1 0.975)" font-size="95.4" text-anchor="start">(b)</text>
<polyline points="477.1,1864.9 498.2,1866.0 519.3,1866.0 540.4,1866.0 561.5,1866.0 582.6,1865.5 603.7,1864.9 624.8,1864.4 646.0,1863.9 667.1,1863.0 688.2,1862.5 709.3,1861.9 730.4,1861.5 751.5,1861.0 772.6,1860.4 793.7,1860.4 814.8,1860.4 835.9,1861.0 857.0,1861.5 878.1,1861.9 899.2,1863.6 920.3,1864.7 941.4,1866.4 962.6,1868.2 983.7,1870.8 1004.8,1873.4 1025.9,1876.6 1047.0,1879.8 1068.1,1883.3 1089.2,1887.0 1110.3,1891.1 1131.4,1895.2 1152.5,1900.1 1173.6,1905.0 1194.7,1910.0 1215.8,1914.9 1236.9,1920.4 1258.1,1926.2 1279.2,1932.3 1300.3,1938.5 1321.4,1945.6 1342.5,1952.3 1363.6,1958.7 1384.7,1965.4 1405.8,1972.0 1426.9,1979.3 1448.0,1987.2 1469.1,1995.7 1490.2,2003.9 1511.3,2011.5 1532.4,2019.1 1553.5,2026.6 1574.7,2034.2 1595.8,2042.1 1616.9,2050.0 1638.0,2058.5 1659.1,2066.7 1680.2,2074.9 1701.3,2082.2 1722.4,2090.4 1743.5,2096.0" fill="none" stroke="#000" stroke-width="7" stroke-linejoin="round"/>
<rect x="470.10" y="1857.90" width="14.00" height="14.00" fill="#000"/>
<rect x="491.21" y="1859.00" width="14.00" height="14.00" fill="#000"/>
<rect x="512.31" y="1859.00" width="14.00" height="14.00" fill="#000"/>
<rect x="533.42" y="1859.00" width="14.00" height="14.00" fill="#000"/>
<rect x="554.53" y="1859.00" width="14.00" height="14.00" fill="#000"/>
<rect x="575.63" y="1858.50" width="14.00" height="14.00" fill="#000"/>
<rect x="596.74" y="1857.90" width="14.00" height="14.00" fill="#000"/>
<rect x="617.85" y="1857.40" width="14.00" height="14.00" fill="#000"/>
<rect x="638.95" y="1856.90" width="14.00" height="14.00" fill="#000"/>
<rect x="660.06" y="1856.00" width="14.00" height="14.00" fill="#000"/>
<rect x="681.17" y="1855.50" width="14.00" height="14.00" fill="#000"/>
<rect x="702.27" y="1854.90" width="14.00" height="14.00" fill="#000"/>
<rect x="723.38" y="1854.50" width="14.00" height="14.00" fill="#000"/>
<rect x="744.49" y="1854.00" width="14.00" height="14.00" fill="#000"/>
<rect x="765.60" y="1853.40" width="14.00" height="14.00" fill="#000"/>
<rect x="786.70" y="1853.40" width="14.00" height="14.00" fill="#000"/>
<rect x="807.81" y="1853.40" width="14.00" height="14.00" fill="#000"/>
<rect x="828.92" y="1854.00" width="14.00" height="14.00" fill="#000"/>
<rect x="850.02" y="1854.50" width="14.00" height="14.00" fill="#000"/>
<rect x="871.13" y="1854.90" width="14.00" height="14.00" fill="#000"/>
<rect x="892.24" y="1856.60" width="14.00" height="14.00" fill="#000"/>
<rect x="913.34" y="1857.70" width="14.00" height="14.00" fill="#000"/>
<rect x="934.45" y="1859.40" width="14.00" height="14.00" fill="#000"/>
<rect x="955.56" y="1861.20" width="14.00" height="14.00" fill="#000"/>
<rect x="976.66" y="1863.80" width="14.00" height="14.00" fill="#000"/>
<rect x="997.77" y="1866.40" width="14.00" height="14.00" fill="#000"/>
<rect x="1018.88" y="1869.60" width="14.00" height="14.00" fill="#000"/>
<rect x="1039.98" y="1872.80" width="14.00" height="14.00" fill="#000"/>
<rect x="1061.09" y="1876.30" width="14.00" height="14.00" fill="#000"/>
<rect x="1082.20" y="1880.00" width="14.00" height="14.00" fill="#000"/>
<rect x="1103.30" y="1884.10" width="14.00" height="14.00" fill="#000"/>
<rect x="1124.41" y="1888.20" width="14.00" height="14.00" fill="#000"/>
<rect x="1145.52" y="1893.10" width="14.00" height="14.00" fill="#000"/>
<rect x="1166.63" y="1898.00" width="14.00" height="14.00" fill="#000"/>
<rect x="1187.73" y="1903.00" width="14.00" height="14.00" fill="#000"/>
<rect x="1208.84" y="1907.90" width="14.00" height="14.00" fill="#000"/>
<rect x="1229.95" y="1913.40" width="14.00" height="14.00" fill="#000"/>
<rect x="1251.05" y="1919.20" width="14.00" height="14.00" fill="#000"/>
<rect x="1272.16" y="1925.30" width="14.00" height="14.00" fill="#000"/>
<rect x="1293.27" y="1931.50" width="14.00" height="14.00" fill="#000"/>
<rect x="1314.37" y="1938.60" width="14.00" height="14.00" fill="#000"/>
<rect x="1335.48" y="1945.30" width="14.00" height="14.00" fill="#000"/>
<rect x="1356.59" y="1951.70" width="14.00" height="14.00" fill="#000"/>
<rect x="1377.69" y="1958.40" width="14.00" height="14.00" fill="#000"/>
<rect x="1398.80" y="1965.00" width="14.00" height="14.00" fill="#000"/>
<rect x="1419.91" y="1972.30" width="14.00" height="14.00" fill="#000"/>
<rect x="1441.01" y="1980.20" width="14.00" height="14.00" fill="#000"/>
<rect x="1462.12" y="1988.70" width="14.00" height="14.00" fill="#000"/>
<rect x="1483.23" y="1996.90" width="14.00" height="14.00" fill="#000"/>
<rect x="1504.33" y="2004.50" width="14.00" height="14.00" fill="#000"/>
<rect x="1525.44" y="2012.10" width="14.00" height="14.00" fill="#000"/>
<rect x="1546.55" y="2019.60" width="14.00" height="14.00" fill="#000"/>
<rect x="1567.66" y="2027.20" width="14.00" height="14.00" fill="#000"/>
<rect x="1588.76" y="2035.10" width="14.00" height="14.00" fill="#000"/>
<rect x="1609.87" y="2043.00" width="14.00" height="14.00" fill="#000"/>
<rect x="1630.98" y="2051.50" width="14.00" height="14.00" fill="#000"/>
<rect x="1652.08" y="2059.70" width="14.00" height="14.00" fill="#000"/>
<rect x="1673.19" y="2067.90" width="14.00" height="14.00" fill="#000"/>
<rect x="1694.30" y="2075.20" width="14.00" height="14.00" fill="#000"/>
<rect x="1715.40" y="2083.40" width="14.00" height="14.00" fill="#000"/>
<rect x="1736.51" y="2089.00" width="14.00" height="14.00" fill="#000"/>
<polyline points="477.1,2677.9 498.2,2664.4 519.3,2650.2 540.4,2637.5 561.5,2624.2 582.6,2609.2 603.7,2591.3 624.8,2568.2 646.0,2543.3 667.1,2516.1 688.2,2487.9 709.3,2460.2 730.4,2432.2 751.5,2406.1 772.6,2381.1 793.7,2360.5 814.8,2341.2 835.9,2324.3 857.0,2309.8 878.1,2297.2 899.2,2285.4 920.3,2274.4 941.4,2264.3 962.6,2255.4 983.7,2247.0 1004.8,2239.0 1025.9,2231.4 1047.0,2224.4 1068.1,2217.9 1089.2,2211.5 1110.3,2205.4 1131.4,2199.5 1152.5,2193.8 1173.6,2188.2 1194.7,2183.3 1215.8,2178.0 1236.9,2173.2 1258.1,2168.5 1279.2,2164.3 1300.3,2160.1 1321.4,2156.3 1342.5,2152.1 1363.6,2148.7 1384.7,2145.3 1405.8,2142.4 1426.9,2139.2 1448.0,2136.3 1469.1,2133.8 1490.2,2131.4 1511.3,2129.1 1532.4,2126.9 1553.5,2124.8 1574.7,2122.4 1595.8,2120.3 1616.9,2118.4 1638.0,2116.5 1659.1,2114.3 1680.2,2112.2 1701.3,2110.3 1722.4,2108.4 1743.5,2106.5" fill="none" stroke="#f00" stroke-width="7" stroke-linejoin="round"/>
<circle cx="477.1" cy="2677.9" r="7.6" fill="#f00"/>
<circle cx="498.2" cy="2664.4" r="7.6" fill="#f00"/>
<circle cx="519.3" cy="2650.2" r="7.6" fill="#f00"/>
<circle cx="540.4" cy="2637.5" r="7.6" fill="#f00"/>
<circle cx="561.5" cy="2624.2" r="7.6" fill="#f00"/>
<circle cx="582.6" cy="2609.2" r="7.6" fill="#f00"/>
<circle cx="603.7" cy="2591.3" r="7.6" fill="#f00"/>
<circle cx="624.8" cy="2568.2" r="7.6" fill="#f00"/>
<circle cx="646.0" cy="2543.3" r="7.6" fill="#f00"/>
<circle cx="667.1" cy="2516.1" r="7.6" fill="#f00"/>
<circle cx="688.2" cy="2487.9" r="7.6" fill="#f00"/>
<circle cx="709.3" cy="2460.2" r="7.6" fill="#f00"/>
<circle cx="730.4" cy="2432.2" r="7.6" fill="#f00"/>
<circle cx="751.5" cy="2406.1" r="7.6" fill="#f00"/>
<circle cx="772.6" cy="2381.1" r="7.6" fill="#f00"/>
<circle cx="793.7" cy="2360.5" r="7.6" fill="#f00"/>
<circle cx="814.8" cy="2341.2" r="7.6" fill="#f00"/>
<circle cx="835.9" cy="2324.3" r="7.6" fill="#f00"/>
<circle cx="857.0" cy="2309.8" r="7.6" fill="#f00"/>
<circle cx="878.1" cy="2297.2" r="7.6" fill="#f00"/>
<circle cx="899.2" cy="2285.4" r="7.6" fill="#f00"/>
<circle cx="920.3" cy="2274.4" r="7.6" fill="#f00"/>
<circle cx="941.4" cy="2264.3" r="7.6" fill="#f00"/>
<circle cx="962.6" cy="2255.4" r="7.6" fill="#f00"/>
<circle cx="983.7" cy="2247.0" r="7.6" fill="#f00"/>
<circle cx="1004.8" cy="2239.0" r="7.6" fill="#f00"/>
<circle cx="1025.9" cy="2231.4" r="7.6" fill="#f00"/>
<circle cx="1047.0" cy="2224.4" r="7.6" fill="#f00"/>
<circle cx="1068.1" cy="2217.9" r="7.6" fill="#f00"/>
<circle cx="1089.2" cy="2211.5" r="7.6" fill="#f00"/>
<circle cx="1110.3" cy="2205.4" r="7.6" fill="#f00"/>
<circle cx="1131.4" cy="2199.5" r="7.6" fill="#f00"/>
<circle cx="1152.5" cy="2193.8" r="7.6" fill="#f00"/>
<circle cx="1173.6" cy="2188.2" r="7.6" fill="#f00"/>
<circle cx="1194.7" cy="2183.3" r="7.6" fill="#f00"/>
<circle cx="1215.8" cy="2178.0" r="7.6" fill="#f00"/>
<circle cx="1236.9" cy="2173.2" r="7.6" fill="#f00"/>
<circle cx="1258.1" cy="2168.5" r="7.6" fill="#f00"/>
<circle cx="1279.2" cy="2164.3" r="7.6" fill="#f00"/>
<circle cx="1300.3" cy="2160.1" r="7.6" fill="#f00"/>
<circle cx="1321.4" cy="2156.3" r="7.6" fill="#f00"/>
<circle cx="1342.5" cy="2152.1" r="7.6" fill="#f00"/>
<circle cx="1363.6" cy="2148.7" r="7.6" fill="#f00"/>
<circle cx="1384.7" cy="2145.3" r="7.6" fill="#f00"/>
<circle cx="1405.8" cy="2142.4" r="7.6" fill="#f00"/>
<circle cx="1426.9" cy="2139.2" r="7.6" fill="#f00"/>
<circle cx="1448.0" cy="2136.3" r="7.6" fill="#f00"/>
<circle cx="1469.1" cy="2133.8" r="7.6" fill="#f00"/>
<circle cx="1490.2" cy="2131.4" r="7.6" fill="#f00"/>
<circle cx="1511.3" cy="2129.1" r="7.6" fill="#f00"/>
<circle cx="1532.4" cy="2126.9" r="7.6" fill="#f00"/>
<circle cx="1553.5" cy="2124.8" r="7.6" fill="#f00"/>
<circle cx="1574.7" cy="2122.4" r="7.6" fill="#f00"/>
<circle cx="1595.8" cy="2120.3" r="7.6" fill="#f00"/>
<circle cx="1616.9" cy="2118.4" r="7.6" fill="#f00"/>
<circle cx="1638.0" cy="2116.5" r="7.6" fill="#f00"/>
<circle cx="1659.1" cy="2114.3" r="7.6" fill="#f00"/>
<circle cx="1680.2" cy="2112.2" r="7.6" fill="#f00"/>
<circle cx="1701.3" cy="2110.3" r="7.6" fill="#f00"/>
<circle cx="1722.4" cy="2108.4" r="7.6" fill="#f00"/>
<circle cx="1743.5" cy="2106.5" r="7.6" fill="#f00"/>
<rect x="1305.00" y="2513.90" width="187.00" height="6.80" fill="#000"/>
<rect x="1391.00" y="2510.30" width="14.00" height="14.00" fill="#000"/>
<text filter="url(#bin)" transform="translate(1514.50 2545.90) scale(1 1.05)" font-size="82.8" text-anchor="start">FC</text>
<rect x="1305.00" y="2615.60" width="187.00" height="6.80" fill="#f00"/>
<circle cx="1398" cy="2619" r="7.7" fill="#f00"/>
<text filter="url(#bin)" transform="translate(1513.60 2647.80) scale(1 1.045)" font-size="83.0" text-anchor="start">ZFC</text>
</svg>
</body></html>
